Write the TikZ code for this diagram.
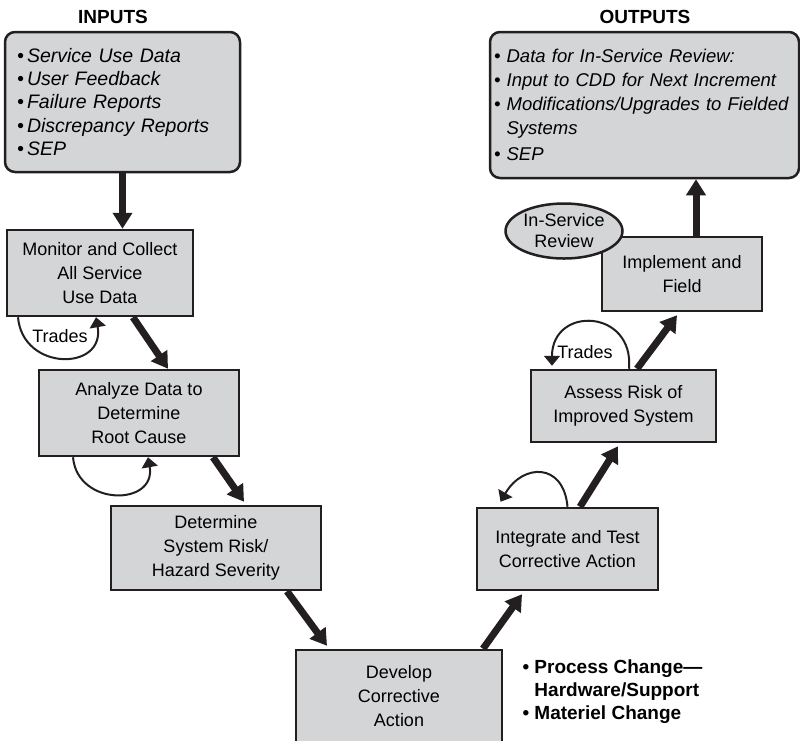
\documentclass[tikz,border=0pt]{standalone}
\usepackage{fontspec}
\setmainfont{Liberation Sans}
\usetikzlibrary{arrows.meta,positioning,shapes.geometric}
\definecolor{boxgray}{HTML}{D4D5D7}
\definecolor{inkblack}{HTML}{231F20}

\begin{document}
\begin{tikzpicture}[
  x=1pt,y=-1pt,
  box/.style={draw=inkblack,line width=2.5pt,fill=boxgray,align=center,inner sep=0pt,font=\fontsize{18}{24}\selectfont},
  listbox/.style={box,rounded corners=10pt,align=left,font=\fontsize{19.5}{23.3}\selectfont\itshape},
  heading/.style={font=\fontsize{19}{23}\selectfont\bfseries},
  flow/.style={-{Triangle[length=16pt,width=19pt]},line width=7pt,draw=inkblack},
  tradearc/.style={-{Triangle[length=10pt,width=16pt]},line width=2pt,draw=inkblack}
]
\useasboundingbox (0,0) rectangle (800,740);

\node[heading] (intitle) at (113,17) {INPUTS};
\node[heading] (outtitle) at (645,17) {OUTPUTS};

\node[listbox,minimum width=235pt,minimum height=140pt,text width=211pt,inner xsep=12pt] (inputs) at (122.5,102)
  {\textbullet\,Service Use Data\\\textbullet\,User Feedback\\\textbullet\,Failure Reports\\\textbullet\,Discrepancy Reports\\\textbullet\,SEP};
\node[listbox,minimum width=309pt,minimum height=146pt,text width=301pt,inner xsep=4pt,font=\fontsize{18.5}{24}\selectfont\itshape] (outputs) at (644.5,105)
  {\textbullet\ Data for In-Service Review:\\\textbullet\ Input to CDD for Next Increment\\\textbullet\ Modifications/Upgrades to Fielded\\\phantom{\textbullet\ }Systems\\[2pt]\textbullet\ SEP};

\node[box,minimum width=186pt,minimum height=86pt] (mon) at (100,273) {Monitor and Collect\\All Service\\Use Data};
\node[box,minimum width=200pt,minimum height=86pt] (ana) at (139,413) {Analyze Data to\\Determine\\Root Cause};
\node[box,minimum width=210pt,minimum height=84pt] (det) at (216,548) {Determine\\System Risk/\\Hazard Severity};
\node[box,minimum width=206pt,minimum height=95pt] (dev) at (399,697.5) {\raisebox{3pt}{\begin{tabular}{@{}c@{}}Develop\\Corrective\\Action\end{tabular}}};
\node[box,minimum width=181pt,minimum height=82pt] (int) at (567.5,549) {Integrate and Test\\Corrective Action};
\node[box,minimum width=185pt,minimum height=72pt] (ass) at (623.5,406) {Assess Risk of\\Improved System};
\node[box,minimum width=160pt,minimum height=74pt] (imp) at (682,274) {Implement and\\Field};
\node[box,ellipse,minimum width=117pt,minimum height=55pt,font=\fontsize{18}{21}\selectfont] (rev) at (564,231) {In-Service\\Review};

\node[anchor=west,align=left,font=\fontsize{19}{23}\selectfont\bfseries] (chg) at (519,692)
  {\textbullet\ Process Change---\\\phantom{\textbullet\ }Hardware/Support\\\textbullet\ Materiel Change};

\draw[flow] (inputs.south) -- (inputs.south |- mon.north);
\draw[flow] ([xshift=33pt]mon.south) -- ([xshift=29pt]ana.north);
\draw[flow] ([xshift=74pt]ana.south) -- ([xshift=28pt,yshift=3pt]det.north);
\draw[flow] ([xshift=71pt]det.south) -- ([xshift=-72pt,yshift=3pt]dev.north);
\draw[flow] ([xshift=84pt]dev.north) -- ([xshift=-45.5pt,yshift=-3pt]int.south);
\draw[flow] ([xshift=12.5pt]int.north) -- ([xshift=-5.5pt,yshift=-3pt]ass.south);
\draw[flow] ([xshift=13.5pt]ass.north) -- ([xshift=-5pt,yshift=-3pt]imp.south);
\draw[flow] ([xshift=14pt]imp.north) -- ([xshift=14pt]imp.north |- outputs.south);

\draw[tradearc] ([xshift=-82pt]mon.south) to[out=-85,in=-80,looseness=1.8] ([xshift=-4pt]mon.south);
\node[font=\fontsize{18}{22}\selectfont] (trl) at (60,336) {Trades};
\draw[tradearc] ([xshift=-66pt]ana.south) to[out=-85,in=-80,looseness=1.7] ([xshift=9pt]ana.south);
\draw[tradearc] (int.north) to[out=95,in=60,looseness=1.7] ([xshift=-67pt,yshift=5pt]int.north);
\draw[tradearc] ([xshift=5.5pt]ass.north) to[out=85,in=90,looseness=2] ([xshift=-71.5pt,yshift=3pt]ass.north);
\node[font=\fontsize{18}{22}\selectfont] (trr) at (585,352) {Trades};
\end{tikzpicture}
\end{document}
